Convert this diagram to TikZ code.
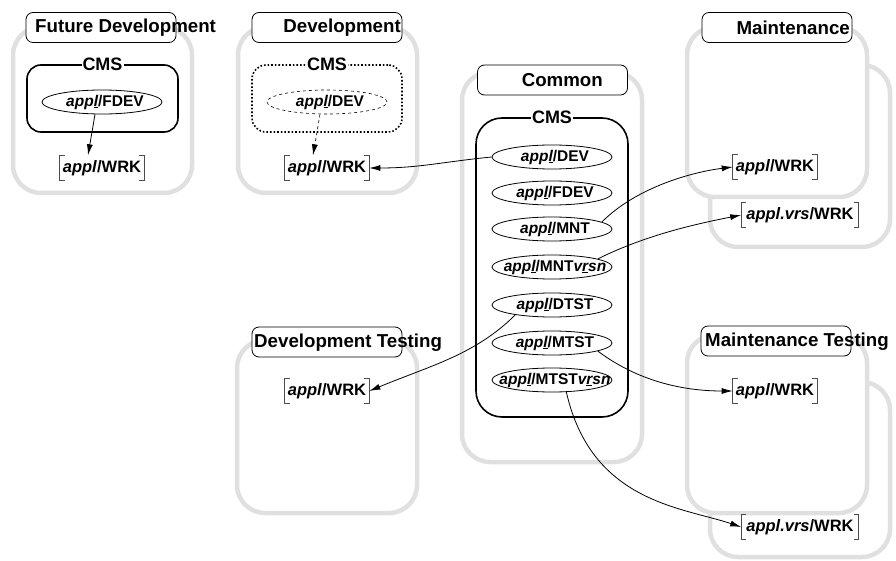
\documentclass[tikz,border=0pt]{standalone}
\usepackage{fontspec}
\setmainfont{Liberation Sans}
\usetikzlibrary{shapes.geometric,arrows.meta}
\newcommand{\fsz}[1]{\fontsize{#1}{#1}\selectfont}
\newcommand{\mtxt}[1]{\makebox[70pt]{\hspace{6pt}#1}}
\newcommand{\mybrk}[1]{%
  \draw[brkline] ([xshift=5pt]#1.north west) -- (#1.north west) -- (#1.south west) -- ++(5,0);
  \draw[brkline] ([xshift=-5pt]#1.north east) -- (#1.north east) -- (#1.south east) -- ++(-5,0);}
\begin{document}
\begin{tikzpicture}[x=1pt,y=-1pt,
  zone/.style={draw=black!12, line width=4.5pt, rounded corners=28pt, fill=white, inner sep=0pt},
  titlebox/.style={draw, rounded corners=7pt, minimum width=150pt, minimum height=30pt, fill=white, line width=0.8pt, inner sep=0pt},
  ttext/.style={font=\bfseries\fsz{18.7}, inner sep=0pt},
  cmsbox/.style={draw, line width=1.6pt, rounded corners=14pt, inner sep=0pt},
  cmslabel/.style={fill=white, font=\bfseries\fsz{18}, inner sep=1pt},
  modl/.style={ellipse, draw, line width=0.8pt, minimum width=120pt, minimum height=24pt, inner sep=0pt, font=\bfseries\fsz{15.5}},
  wrk/.style={font=\bfseries\fsz{16.5}, inner xsep=3pt, inner ysep=0pt, minimum height=25pt},
  brkline/.style={draw=black!70, line width=0.9pt},
  link/.style={-{Latex[length=11pt,width=6pt]}, line width=0.8pt}
]
\useasboundingbox (0,0) rectangle (896,561);

% ---------- zones ----------
\node[zone, minimum width=179pt, minimum height=166pt] (fdZ) at (102.5,110) {};
\node[zone, minimum width=179pt, minimum height=166pt] (dvZ) at (327.5,110) {};
\node[zone, minimum width=180pt, minimum height=390pt] (cmZ) at (552,267) {};
\node[zone, minimum width=180pt, minimum height=182pt] (mnZb) at (800,156) {};
\node[zone, minimum width=180pt, minimum height=170pt] (mnZ) at (777,112) {};
\node[zone, minimum width=180pt, minimum height=175pt] (mtZb) at (800,469.5) {};
\node[zone, minimum width=180pt, minimum height=178pt] (mtZ) at (777,424) {};
\node[zone, minimum width=180pt, minimum height=173pt] (dtZ) at (327,426.5) {};

% ---------- title boxes ----------
\node[titlebox] (fdT) at (101,27.5) {};
\node[ttext, anchor=west] (fdTt) at (35,28) {Future Development};
\node[titlebox] (dvT) at (327,27.5) {};
\node[ttext, anchor=east] (dvTt) at (401,28) {Development};
\node[titlebox] (cmT) at (552.5,80) {};
\node[ttext, anchor=east] (cmTt) at (603,80.5) {Common};
\node[titlebox] (mnT) at (777,27.5) {};
\node[ttext, anchor=east] (mnTt) at (850,28) {Maintenance};
\node[titlebox] (mtT) at (776,341) {};
\node[ttext, anchor=west] (mtTt) at (705,341.5) {Maintenance Testing};
\node[titlebox] (dtT) at (327,342) {};
\node[ttext, anchor=west] (dtTt) at (254,342.5) {Development Testing};

% ---------- CMS boxes ----------
\node[cmsbox, minimum width=151pt, minimum height=67pt] (fdC) at (102.5,98.5) {};
\node[cmslabel] (fdCl) at (fdC.north) {CMS};
\node[cmsbox, dotted, minimum width=150pt, minimum height=67pt] (dvC) at (327,98.5) {};
\node[cmslabel] (dvCl) at (dvC.north) {CMS};
\node[cmsbox, rounded corners=26pt, minimum width=152pt, minimum height=299pt] (cmC) at (552,267.5) {};
\node[cmslabel] (cmCl) at (cmC.north) {CMS};

% ---------- modules ----------
\node[modl] (fdE) at (102,102) {\mtxt{\textit{app\underline{l}}/FDEV}};
\node[modl, dashed, line width=0.6pt] (dvE) at (327,102) {\mtxt{\textit{app\underline{l}}/DEV}};
\node[modl] (cDEV) at (552,157) {\mtxt{\textit{app\underline{l}}/DEV}};
\node[modl] (cFDEV) at (552,193) {\mtxt{\textit{app\underline{l}}/FDEV}};
\node[modl] (cMNT) at (552,229) {\mtxt{\textit{app\underline{l}}/MNT}};
\node[modl] (cMNTv) at (552,267) {\mtxt{\textit{app\underline{l}}/MNT\textit{v\underline{r}sn}}};
\node[modl] (cDTST) at (552,305) {\mtxt{\textit{app\underline{l}}/DTST}};
\node[modl] (cMTST) at (552,343) {\mtxt{\textit{app\underline{l}}/MTST}};
\node[modl] (cMTSTv) at (552,380) {\mtxt{\textit{app\underline{l}}/MTST\textit{v\underline{r}sn}}};

% ---------- work areas ----------
\node[wrk] (fdW) at (102,168) {\textit{appl}/WRK};
\node[wrk] (dvW) at (327,168) {\textit{appl}/WRK};
\node[wrk] (mnW) at (775,167) {\textit{appl}/WRK};
\node[wrk, inner xsep=5pt] (mnV) at (800,215) {\textit{appl.vrs}/WRK};
\node[wrk] (mtW) at (775,391) {\textit{appl}/WRK};
\node[wrk, inner xsep=5pt] (mtV) at (800,527) {\textit{appl.vrs}/WRK};
\node[wrk] (dtW) at (327,391) {\textit{appl}/WRK};
\mybrk{fdW}\mybrk{dvW}\mybrk{mnW}\mybrk{mnV}\mybrk{mtW}\mybrk{mtV}\mybrk{dtW}

% ---------- connectors ----------
\draw[link] ([xshift=-7pt]fdE.south) -- ([xshift=-14pt]fdW.north);
\draw[link, dashed, line width=0.6pt] ([xshift=-7pt]dvE.south) -- ([xshift=-14pt]dvW.north);
\draw[link] (cDEV.west) .. controls +(-50,5) and +(50,0) .. (dvW.east);
\draw[link] (cMNT.8) .. controls +(35,-35) and +(-40,5) .. (mnW.west);
\draw[link] (cMNTv.10) .. controls +(50,-25) and +(-40,8) .. (mnV.west);
\draw[link] (cDTST.195) .. controls +(-40,40) and +(60,-25) .. (dtW.east);
\draw[link] (cMTST.-10) .. controls +(40,30) and +(-50,0) .. (mtW.west);
\draw[link] (cMTSTv.-40) .. controls +(25,110) and +(-60,-20) .. (mtV.west);
\end{tikzpicture}
\end{document}
